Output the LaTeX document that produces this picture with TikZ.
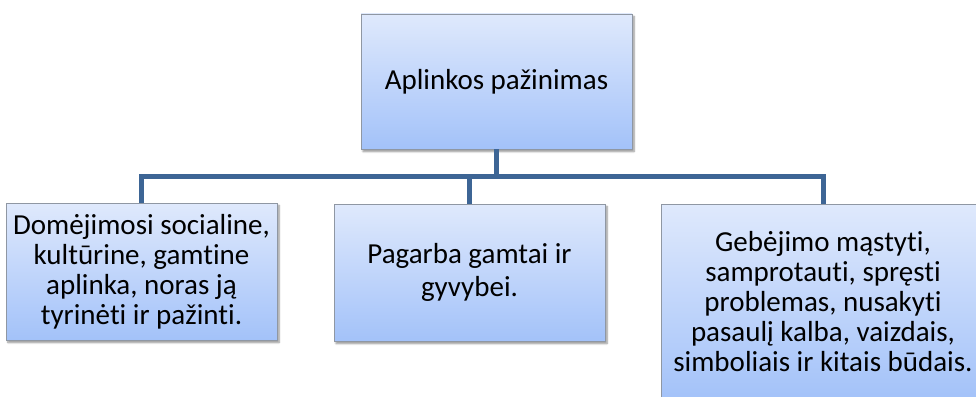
\documentclass[tikz,border=0pt]{standalone}
\usepackage{fontspec}
\setmainfont{Carlito}[RawFeature={-liga;-clig;-calt;-dlig}]
\usetikzlibrary{shadows.blur}
\definecolor{boxtop}{HTML}{DFE9FC}
\definecolor{boxbot}{HTML}{A3C2F9}
\definecolor{boxedge}{HTML}{8F97A3}
\definecolor{linkblue}{HTML}{3D6595}
\tikzset{
  topic/.style={draw=boxedge, line width=0.8pt, top color=boxtop, bottom color=boxbot,
    align=center, inner sep=2pt, font=\fontsize{29}{33}\selectfont,
    blur shadow={shadow xshift=2pt, shadow yshift=-2.5pt, shadow blur steps=6, shadow opacity=45}},
  link/.style={draw=linkblue, line width=5pt, line join=miter}
}
\begin{document}
\begin{tikzpicture}[x=1pt,y=-1pt]
\path[use as bounding box, clip] (0,0) rectangle (976,396);
% boxes
\node[topic, minimum width=271pt, minimum height=135pt] (main) at (496.5,81.5) {Aplinkos pažinimas};
\node[topic, minimum width=271pt, minimum height=137pt, font=\fontsize{29}{30}\selectfont] (interest) at (141.5,271.5)
  {Domėjimosi socialine,\\kultūrine, gamtine\\aplinka, noras ją\\tyrinėti ir pažinti.};
\node[topic, minimum width=271pt, minimum height=137pt] (respect) at (469.5,272.5)
  {Pagarba gamtai ir\\gyvybei.};
\node[topic, minimum width=324pt, minimum height=196pt, font=\fontsize{29}{30}\selectfont] (ability) at (823,302)
  {Gebėjimo mąstyti,\\samprotauti, spręsti\\problemas, nusakyti\\pasaulį kalba, vaizdais,\\simboliais ir kitais būdais.};
% connectors
\coordinate (bus) at (496.5,176.5);
\draw[link] (main.south) -- (bus);
\draw[link] (interest.north) -- (interest.north |- bus) -- (ability.north |- bus) -- (ability.north);
\draw[link] (respect.north) -- (respect.north |- bus);
\end{tikzpicture}
\end{document}
